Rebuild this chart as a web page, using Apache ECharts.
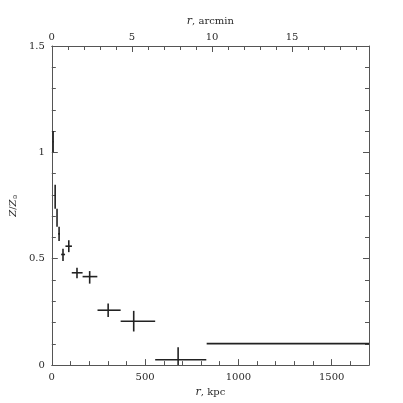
<!DOCTYPE html>
<html>
<head>
    <meta charset="UTF-8">
    <script src="https://cdn.jsdelivr.net/npm/echarts@6/dist/echarts.min.js"></script>
    <style>
        html, body { margin: 0; padding: 0; background: #fff; }
        #chart { width: 403px; height: 403px; }
    </style>
</head>
<body>
<div id="chart"></div>
<script type="text/javascript">
    // radius (kpc) and its bin edges
    const radius     = [7, 18, 28, 39, 60, 91, 135, 203, 302, 439, 677, 1265];
    const radiusLow  = [5, 18, 28, 34, 50, 73, 107, 165, 245, 369, 554, 830];
    const radiusHigh = [9, 18, 28, 44, 71, 108, 165, 244, 369, 554, 828, 1700];
    // abundance Z/Zsun with errors
    const metal     = [1.05, 0.79, 0.69, 0.617, 0.52, 0.559, 0.434, 0.416, 0.258, 0.206, 0.025, 0.101];
    const metalLow  = [1.00, 0.735, 0.65, 0.583, 0.489, 0.531, 0.408, 0.383, 0.226, 0.158, -0.034, 0.101];
    const metalHigh = [1.10, 0.848, 0.735, 0.65, 0.547, 0.587, 0.458, 0.442, 0.29, 0.255, 0.084, 0.101];

    const kpcMax = 1700;
    const arcminMax = 19.8;

    const font = 'DejaVu Serif';
    const txt = '#2a2a2a';
    const axisCol = '#555';

    const points = radius.map(function (r, i) {
        return [r, metal[i], radiusLow[i], radiusHigh[i], metalLow[i], metalHigh[i]];
    });

    const chart = echarts.init(document.getElementById('chart'));

    function frameAxis(extra) {
        return Object.assign({
            axisLine: { show: true, onZero: false, lineStyle: { color: axisCol, width: 1 } },
            axisTick: { show: true, inside: true, length: 6, lineStyle: { color: axisCol } },
            minorTick: { show: true, splitNumber: 5, length: 4, lineStyle: { color: axisCol } },
            splitLine: { show: false },
            minorSplitLine: { show: false },
            axisLabel: {
                color: txt, fontFamily: font, fontSize: 10, margin: 7, showMaxLabel: false,
                formatter: function (v) { return String(v); }
            }
        }, extra);
    }

    const nameStyle = {
        color: txt, fontFamily: font, fontSize: 10,
        rich: { i: { fontStyle: 'italic', fontFamily: font, fontSize: 11, color: txt } }
    };

    chart.setOption({
        animation: false,
        grid: { left: 50, right: 34, top: 46, bottom: 37 },
        xAxis: [
            frameAxis({
                type: 'value', position: 'bottom', min: 0, max: kpcMax, interval: 500,
                name: '{i|r}, kpc', nameLocation: 'middle', nameGap: 20,
                nameTextStyle: nameStyle
            }),
            frameAxis({
                type: 'value', position: 'top', min: 0, max: arcminMax, interval: 5,
                axisLabel: {
                    color: txt, fontFamily: font, fontSize: 10, margin: 4, showMaxLabel: false,
                    formatter: function (v) { return String(v); }
                },
                name: '{i|r}, arcmin', nameLocation: 'middle', nameGap: 19,
                nameTextStyle: nameStyle
            })
        ],
        yAxis: [
            frameAxis({
                type: 'value', position: 'left', min: 0, max: 1.5, interval: 0.5,
                axisLabel: {
                    color: txt, fontFamily: font, fontSize: 10, margin: 7,
                    formatter: function (v) { return String(v); }
                },
                name: '{i|Z}/{i|Z}{s|⊙}', nameLocation: 'middle', nameGap: 31, nameRotate: 90,
                nameTextStyle: {
                    color: txt, fontFamily: font, fontSize: 10,
                    rich: {
                        i: { fontStyle: 'italic', fontFamily: font, fontSize: 10, color: txt },
                        s: { fontFamily: font, fontSize: 6, color: txt, verticalAlign: 'bottom' }
                    }
                }
            }),
            frameAxis({
                type: 'value', position: 'right', min: 0, max: 1.5, interval: 0.5,
                axisLabel: { show: false }
            })
        ],
        series: [{
            type: 'custom',
            clip: true,
            xAxisIndex: 0,
            yAxisIndex: 0,
            data: points,
            encode: { x: 0, y: 1 },
            renderItem: function (params, api) {
                const r = api.value(0), z = api.value(1);
                const h0 = api.coord([api.value(2), z]);
                const h1 = api.coord([api.value(3), z]);
                const v0 = api.coord([r, api.value(4)]);
                const v1 = api.coord([r, api.value(5)]);
                const style = { stroke: '#222', lineWidth: 1.6 };
                const kids = [];
                if (h1[0] - h0[0] > 0.5) {
                    kids.push({ type: 'line', shape: { x1: h0[0], y1: h0[1], x2: h1[0], y2: h1[1] }, style: style });
                }
                if (v0[1] - v1[1] > 0.5) {
                    kids.push({ type: 'line', shape: { x1: v0[0], y1: v0[1], x2: v1[0], y2: v1[1] }, style: style });
                }
                return { type: 'group', children: kids };
            }
        }]
    });
</script>
</body>
</html>
